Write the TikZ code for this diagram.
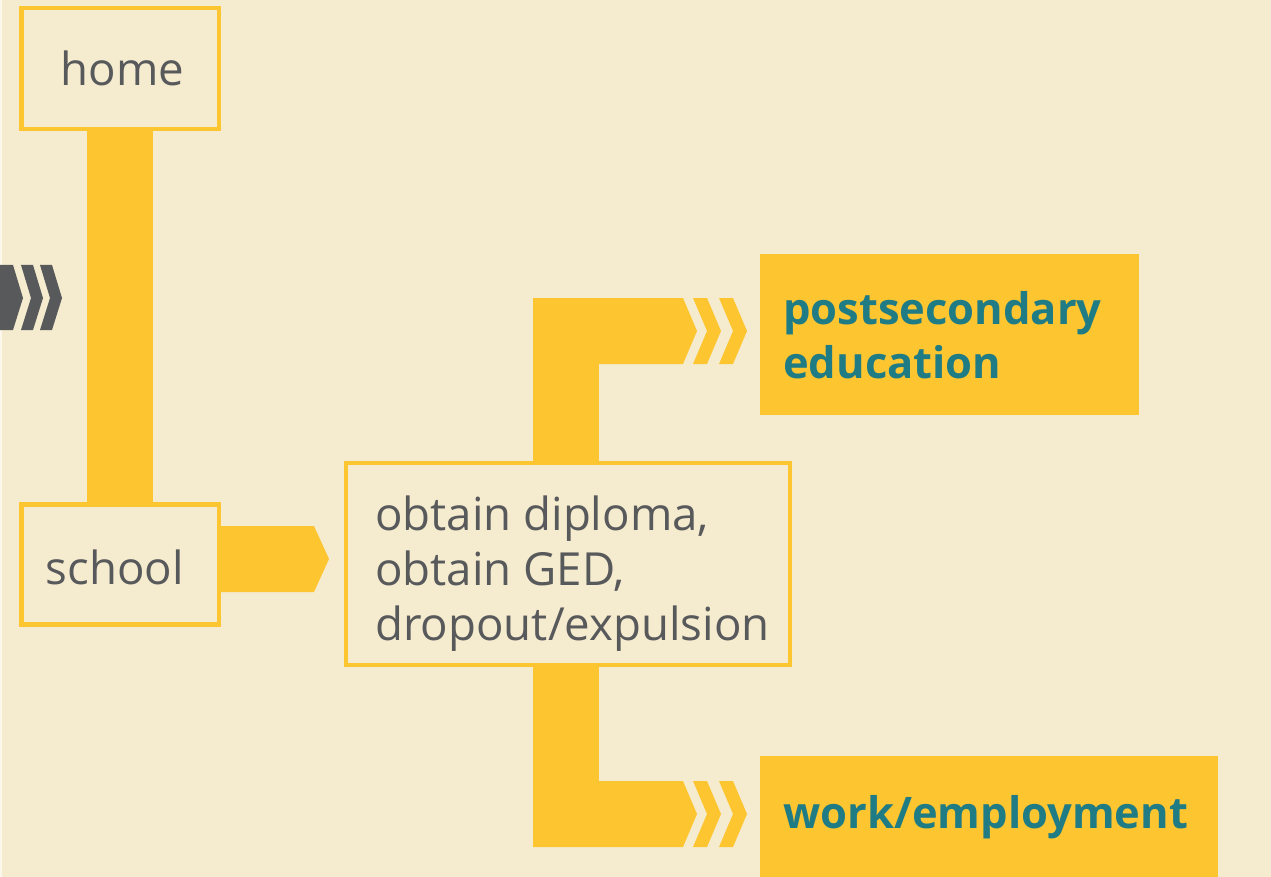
\documentclass[tikz,border=0pt]{standalone}
\usepackage{fontspec}
\setmainfont{Open Sans}
\usetikzlibrary{positioning}

\definecolor{cream}{HTML}{F5EBCF}
\definecolor{gold}{HTML}{FDC530}
\definecolor{slate}{HTML}{58595B}
\definecolor{teal}{HTML}{1F7B84}

\begin{document}
\begin{tikzpicture}[x=1pt, y=-1pt,
  box/.style={draw=gold, line width=4.5pt, fill=cream, text=slate,
    font=\fontsize{45.6}{55}\selectfont},
  goal/.style={fill=gold, text=teal, anchor=north west, align=left,
    inner xsep=23pt, font=\fontsize{43.5}{54}\selectfont\bfseries}]

\fill[cream] (0,0) rectangle (1271,877);
\useasboundingbox (0,0) rectangle (1271,877);
\fill[white!60!cream] (0,0) rectangle (2,877);

% incoming arrow on the left
\fill[slate] (0,265) -- (13,265) -- (23,298) -- (13,330) -- (0,330) -- cycle;
\foreach \dx in {0,19}
  \fill[slate] (21+\dx,265) -- (33+\dx,265) -- (43+\dx,298) -- (33+\dx,330)
    -- (21+\dx,330) -- (31+\dx,298) -- cycle;

% bands
\fill[gold] (87,130) rectangle (153,503);
\fill[gold] (219,526) -- (314,526) -- (329,559) -- (314,592) -- (219,592) -- cycle;

\fill[gold] (533,298) rectangle (599,461);
\fill[gold] (533,298) -- (683,298) -- (697,331) -- (683,364) -- (533,364) -- cycle;
\fill[gold] (533,667) rectangle (599,781);
\fill[gold] (533,781) -- (683,781) -- (697,814) -- (683,847) -- (533,847) -- cycle;

\foreach \y in {298,781}
  \foreach \dx in {0,26}
    \fill[gold] (693+\dx,\y) -- (707+\dx,\y) -- (721+\dx,\y+33) -- (707+\dx,\y+66)
      -- (693+\dx,\y+66) -- (707+\dx,\y+33) -- cycle;

% boxes
\node[box, minimum width=197.5pt, minimum height=121pt] (home) at (120,68.5) {};
\node[box, minimum width=197.5pt, minimum height=120pt] (school) at (120,564.5) {};
\node[box, minimum width=444pt, minimum height=202pt] (outcome) at (568,564) {};

\node[box, draw=none, fill=none] (home text) at (122.5,68.5) {home};
\node[box, draw=none, fill=none] (school text) at (115,567.5) {school};
\node[box, draw=none, fill=none, anchor=west, align=left, inner xsep=0pt]
  (outcome text) at (373,574)
  {obtain diploma,\\obtain GED,\\dropout/expulsion};

\node[goal, minimum width=379pt, minimum height=161pt, text width=333pt]
  (college) at (760,254) {postsecondary\\education};
\node[goal, minimum width=458pt, minimum height=121pt, text width=412pt]
  (work) at (760,756) {work/employment};

\end{tikzpicture}
\end{document}
